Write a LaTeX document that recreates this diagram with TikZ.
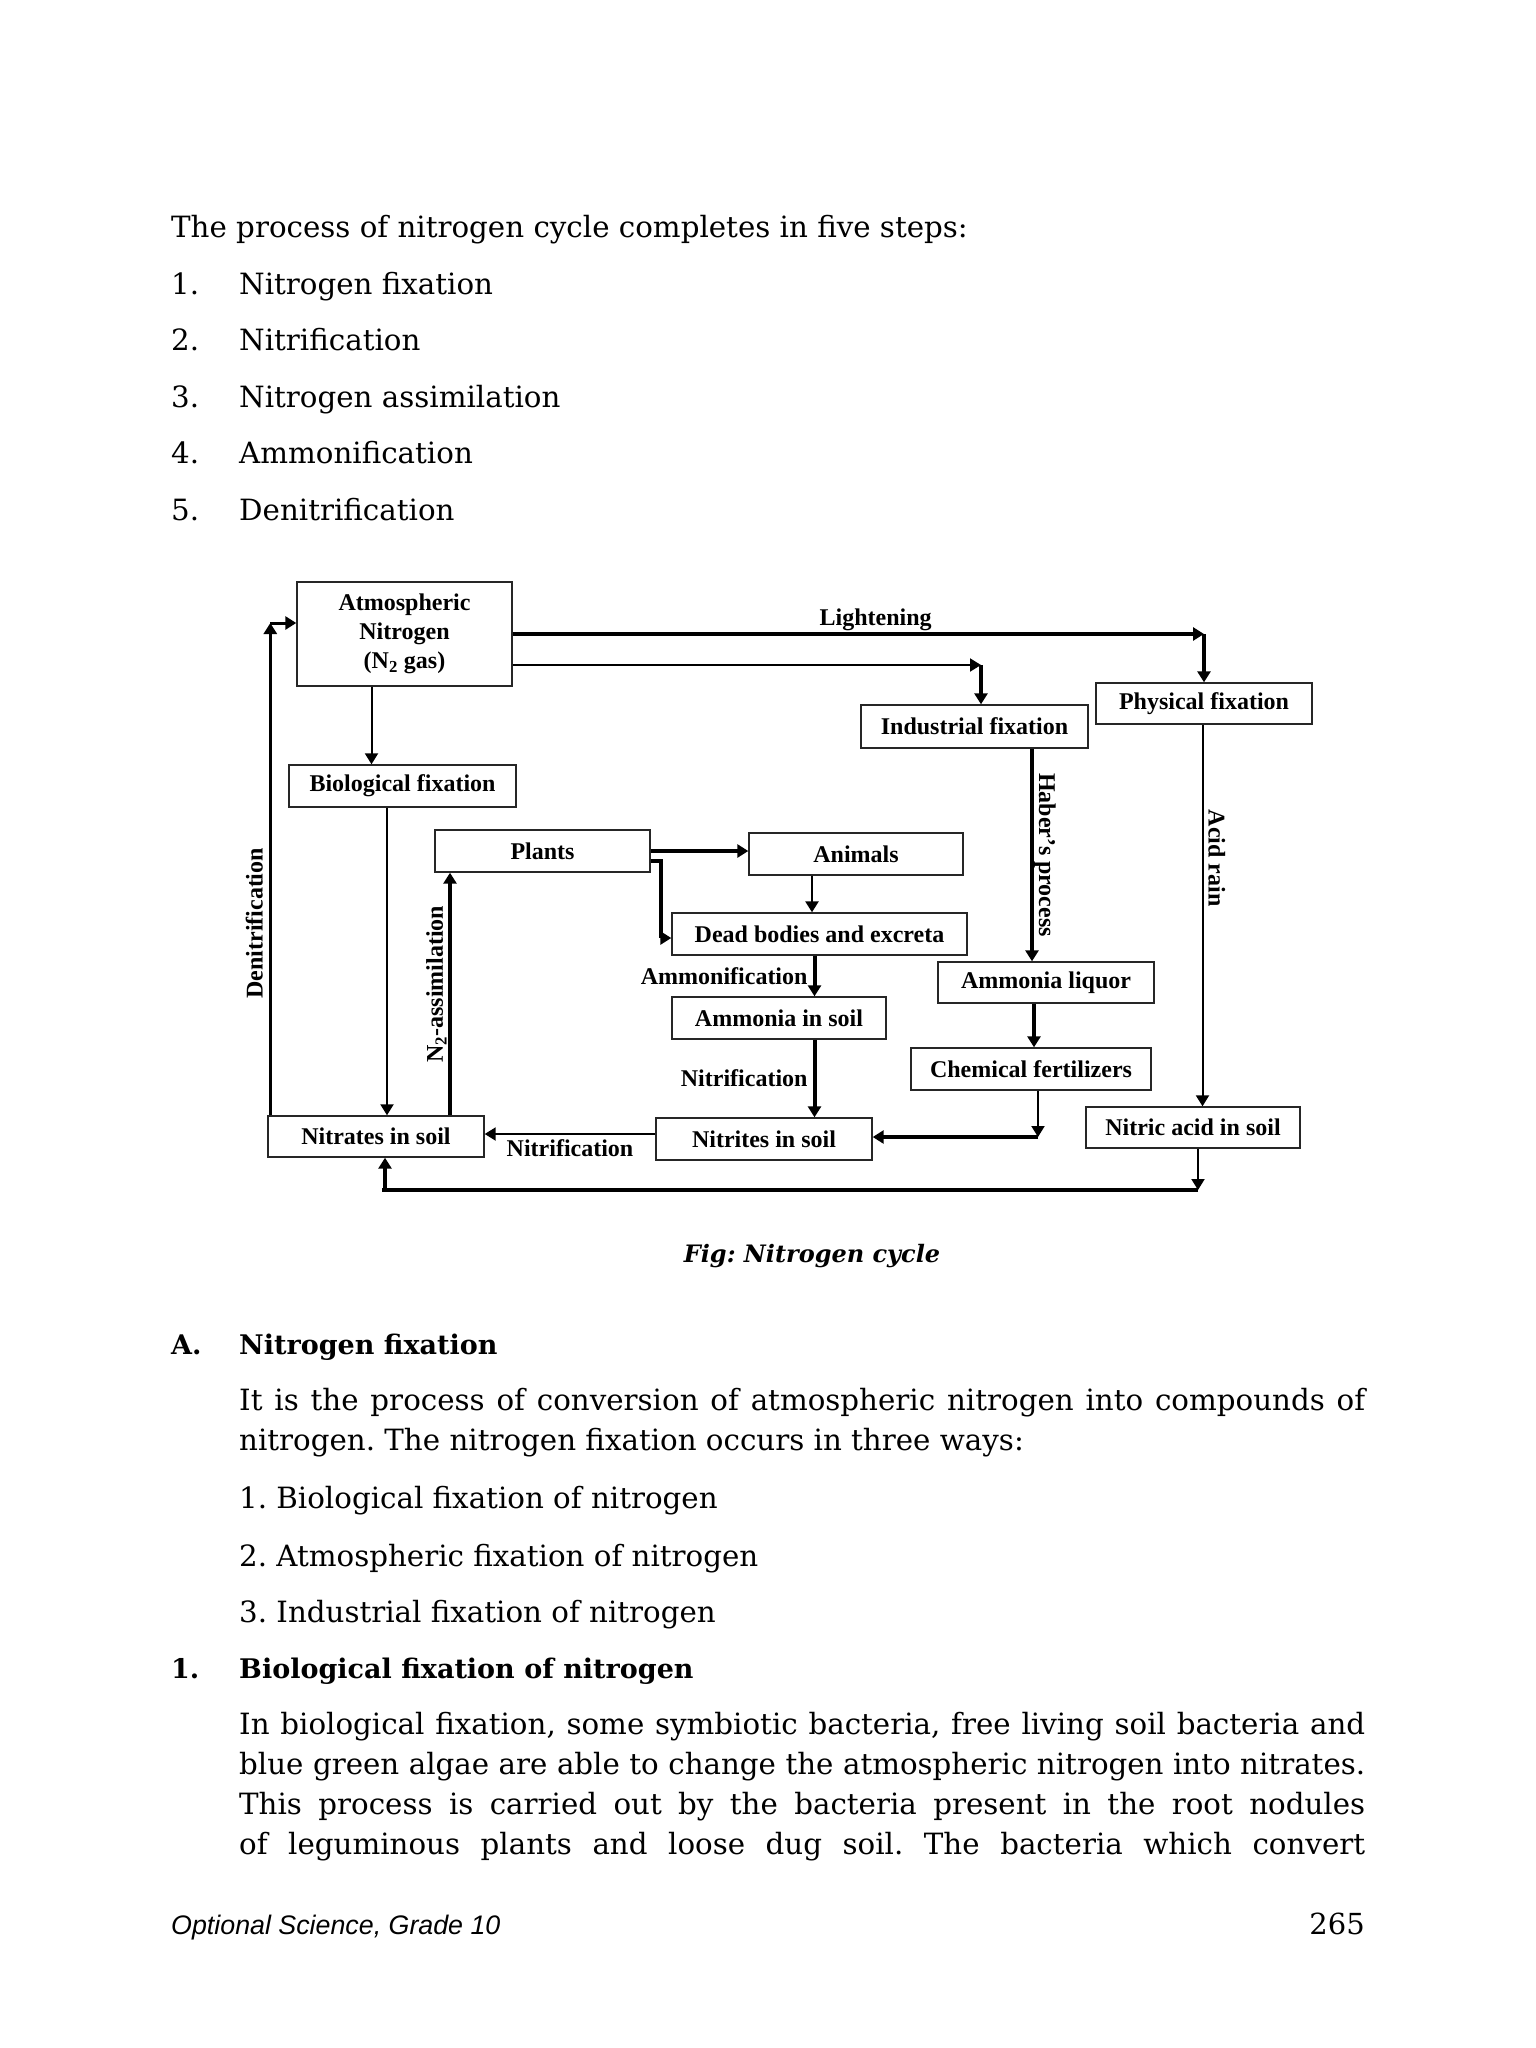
\documentclass[tikz,border=0pt]{standalone}
\usepackage{fontspec}
\setmainfont{DejaVu Serif}
\newfontfamily\dfont{Liberation Serif}
\newfontfamily\ffont{Liberation Sans}
\usetikzlibrary{arrows.meta}
\frenchspacing
\tikzset{
  box/.style={draw=black!85, line width=1.4pt, inner sep=0pt, align=center,
    font=\dfont\bfseries\fontsize{24}{29}\selectfont},
  lbl/.style={font=\dfont\bfseries\fontsize{24}{29}\selectfont, inner sep=2pt},
  tip/.style={-{Triangle[length=11pt,width=13pt]}},
  thn/.style={line width=2pt, tip},
  thk/.style={line width=4pt, tip},
  plainthk/.style={line width=4pt},
  body/.style={anchor=base west, inner sep=0pt, font=\fontsize{29.3}{35}\selectfont},
  head/.style={anchor=base west, inner sep=0pt, font=\bfseries\fontsize{27}{33}\selectfont},
}
\newcommand{\jline}[1]{\makebox[1126pt][s]{#1}}
\begin{document}
\begin{tikzpicture}[x=1pt,y=-1pt]
\useasboundingbox (0,0) rectangle (1536,2048);
\fill[white] (0,0) rectangle (1536,2048);

% ---------- upper text ----------
\node[body] (intro) at (171,237) {The process of nitrogen cycle completes in five steps:};
\node[body] (l1n) at (171,294) {1.};   \node[body] (l1t) at (239,294) {Nitrogen fixation};
\node[body] (l2n) at (171,350.5) {2.}; \node[body] (l2t) at (239,350.5) {Nitrification};
\node[body] (l3n) at (171,407) {3.};   \node[body] (l3t) at (239,407) {Nitrogen assimilation};
\node[body] (l4n) at (171,463.5) {4.}; \node[body] (l4t) at (239,463.5) {Ammonification};
\node[body] (l5n) at (171,520) {5.};   \node[body] (l5t) at (239,520) {Denitrification};

% ---------- diagram boxes ----------
\node[box, minimum width=215pt, minimum height=104pt] (atm) at (404.5,634)
  {Atmospheric\\Nitrogen\\(N\textsubscript{2} gas)};
\node[box, minimum width=227pt, minimum height=42pt] (bio) at (402.5,786) {Biological fixation};
\node[box, minimum width=215pt, minimum height=42pt] (plants) at (542.5,851) {Plants};
\node[box, minimum width=214pt, minimum height=42pt] (animals) at (856,854) {Animals};
\node[box, minimum width=295pt, minimum height=42pt] (dead) at (819.5,934) {Dead bodies and excreta};
\node[box, minimum width=214pt, minimum height=42pt] (amsoil) at (779,1018) {Ammonia in soil};
\node[box, minimum width=216pt, minimum height=42pt] (nitrites) at (764,1139) {Nitrites in soil};
\node[box, minimum width=216pt, minimum height=41pt] (nitrates) at (376,1136.5) {Nitrates in soil};
\node[box, minimum width=227pt, minimum height=43pt] (indus) at (974.5,726.5) {Industrial fixation};
\node[box, minimum width=216pt, minimum height=41pt] (phys) at (1204,703.5) {Physical fixation};
\node[box, minimum width=216pt, minimum height=41pt] (amliq) at (1046,982.5) {Ammonia liquor};
\node[box, minimum width=240pt, minimum height=42pt] (chem) at (1031,1069) {Chemical fertilizers};
\node[box, minimum width=214pt, minimum height=41pt] (nitric) at (1193,1127.5) {Nitric acid in soil};

% ---------- helper coordinates ----------
\coordinate (a2) at ([yshift=-31pt]atm.east);
\coordinate (i2) at ([xshift=6.5pt]indus.north);
\coordinate (a3) at ([xshift=-33pt]atm.south);
\coordinate (b1) at ([xshift=-15.5pt]bio.south);
\coordinate (d1) at ([xshift=3pt]nitrates.north west);
\coordinate (d2) at ([yshift=11pt]atm.west);
\coordinate (n1) at ([xshift=74pt]nitrates.north);
\coordinate (p1) at ([yshift=-10pt]plants.east);
\coordinate (p2) at ([yshift=-4pt]dead.west);
\coordinate (an1) at ([xshift=-44pt]animals.south);
\coordinate (dd1) at ([xshift=-5pt]dead.south);
\coordinate (as1) at ([xshift=35.5pt]amsoil.south);
\coordinate (nt1) at ([yshift=5pt]nitrites.west);
\coordinate (in1) at ([xshift=57.5pt]indus.south);
\coordinate (ph1) at ([xshift=-1.5pt]phys.south);
\coordinate (al1) at ([xshift=-12pt]amliq.south);
\coordinate (ch1) at ([xshift=7pt]chem.south);
\coordinate (ni2) at ([yshift=2pt]nitrites.east);
\coordinate (na1) at ([xshift=5pt]nitric.south);
\coordinate (bt) at (0,1190);
\coordinate (nb1) at ([xshift=9pt]nitrates.south);

% ---------- connectors ----------
% Lightening
\draw[thk] (atm.east) -- node[lbl, pos=0.525, above, inner sep=1pt] {Lightening} (phys.north |- atm.east);
\draw[thk] (phys.north |- atm.east) -- (phys.north);
% industrial
\draw[thn] (a2) -- (i2 |- a2);
\draw[thk] (i2 |- a2) -- (i2);
% atm -> bio
\draw[thn] (a3) -- (a3 |- bio.north);
% bio -> nitrates
\draw[thn] (b1) -- (b1 |- nitrates.north);
% denitrification
\draw[line width=3pt, tip] (d1) -- node[lbl, pos=0.39, rotate=90, anchor=south, inner sep=6pt] {Denitrification} (d1 |- d2);
\draw[line width=3pt, tip] (d1 |- d2) -- (d2);
% N2 assimilation
\draw[thk] (n1) -- node[lbl, pos=0.54, rotate=90, anchor=south, inner sep=1.5pt] {N\textsubscript{2}-assimilation} (n1 |- plants.south);
% plants -> animals
\draw[thk] (plants.east) -- (plants.east -| animals.west);
% plants -> dead bodies
\draw[thk] (p1) -| ([xshift=-10pt]p2) -- (p2);
% animals -> dead
\draw[line width=2.5pt, tip] (an1) -- (an1 |- dead.north);
% dead -> ammonia in soil
\draw[thk] (dd1) -- node[lbl, midway, left, inner sep=5pt] {Ammonification} (dd1 |- amsoil.north);
% ammonia in soil -> nitrites
\draw[thk] (as1) -- node[lbl, midway, left, inner sep=5pt] {Nitrification} (as1 |- nitrites.north);
% nitrites -> nitrates
\draw[thn] (nt1) -- node[lbl, midway, below, inner sep=5pt] {Nitrification} (nt1 -| nitrates.east);
% industrial -> ammonia liquor
\draw[thk] (in1) -- node[lbl, midway, rotate=-90, anchor=south, inner sep=0pt] {Haber’s process} (in1 |- amliq.north);
% ammonia liquor -> chemical fertilizers
\draw[thk] (al1) -- (al1 |- chem.north);
% chemical fertilizers -> nitrites
\draw[thn] (ch1) -- (ch1 |- ni2);
\draw[thk] (ch1 |- ni2) -- (ni2);
% physical -> nitric acid
\draw[thn] (ph1) -- node[lbl, pos=0.35, rotate=-90, anchor=south, inner sep=5pt] {Acid rain} (ph1 |- nitric.north);
% nitric acid -> nitrates
\draw[thn] (na1) -- (na1 |- bt);
\draw[plainthk] (na1 |- bt) -- ([xshift=-3pt]nb1 |- bt);
\draw[thk] (nb1 |- bt) -- (nb1);

% ---------- caption ----------
\node[anchor=base, inner sep=0pt, font=\bfseries\itshape\fontsize{24}{29}\selectfont] (cap) at (812,1262) {Fig: Nitrogen cycle};

% ---------- lower text ----------
\node[head] (hA) at (171,1354) {A.};
\node[head] (hAt) at (239,1354) {Nitrogen fixation};
\node[body] (pA1) at (239,1410) {\jline{It is the process of conversion of atmospheric nitrogen into compounds of}};
\node[body] (pA2) at (239,1450) {nitrogen. The nitrogen fixation occurs in three ways:};
\node[body] (w1) at (239,1508) {1. Biological fixation of nitrogen};
\node[body] (w2) at (239,1566) {2. Atmospheric fixation of nitrogen};
\node[body] (w3) at (239,1622) {3. Industrial fixation of nitrogen};
\node[head] (h1) at (171,1678) {1.};
\node[head] (h1t) at (239,1678) {Biological fixation of nitrogen};
\node[body] (q1) at (239,1734) {\jline{In biological fixation, some symbiotic bacteria, free living soil bacteria and}};
\node[body] (q2) at (239,1774) {\jline{blue green algae are able to change the atmospheric nitrogen into nitrates.}};
\node[body] (q3) at (239,1814) {\jline{This process is carried out by the bacteria present in the root nodules}};
\node[body] (q4) at (239,1854) {\jline{of leguminous plants and loose dug soil. The bacteria which convert}};

% ---------- footer ----------
\node[anchor=base west, inner sep=0pt, font=\ffont\itshape\fontsize{26.8}{31}\selectfont] (foot) at (171,1934) {Optional Science, Grade 10};
\node[anchor=base east, inner sep=0pt, font=\fontsize{29}{35}\selectfont] (pg) at (1365,1934) {265};
\end{tikzpicture}
\end{document}
